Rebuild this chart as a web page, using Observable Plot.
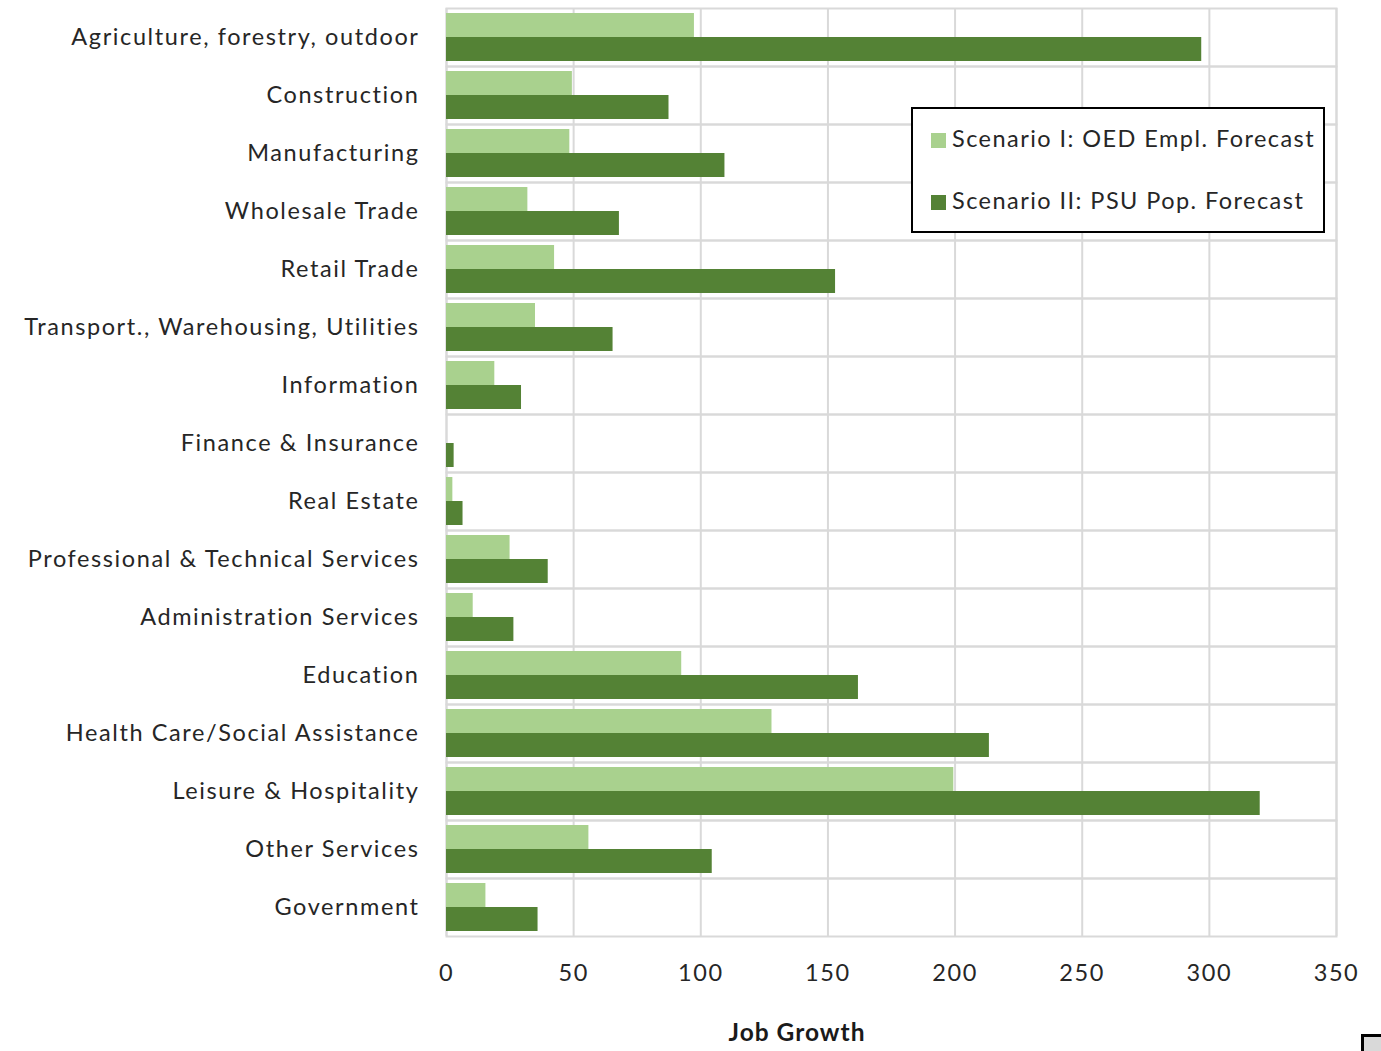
<!DOCTYPE html>
<html>
<head>
<meta charset="utf-8">
<script src="https://cdn.jsdelivr.net/npm/d3@7"></script>
<script src="https://cdn.jsdelivr.net/npm/@observablehq/plot@0.6"></script>
<style>
  html, body { margin: 0; padding: 0; background: #fff; }
  #wrap { position: relative; width: 1381px; height: 1051px; overflow: hidden; font-family: Lato, "Open Sans", sans-serif; color: #262626; }
  #chart { position: absolute; left: 0; top: 0; }
  #chart svg text { letter-spacing: 1.6px; }
  #legend { position: absolute; left: 911px; top: 107px; width: 410px; height: 122px; border: 2px solid #000; background: #fff; }
  .item { position: absolute; left: 18px; font-size: 23.5px; letter-spacing: 1.45px; white-space: nowrap; line-height: 24px; }
  .sw { display: inline-block; width: 15px; height: 15px; margin-right: 6px; vertical-align: -1px; }
  #xlabel { position: absolute; left: 647px; width: 300px; top: 1020px; line-height: 24px; text-align: center; font-weight: bold; font-size: 24.5px; letter-spacing: 1px; color: #1a1a1a; }
  #corner { position: absolute; left: 1361px; top: 1034px; width: 40px; height: 40px; background: #d9d9d9; border: 3px solid #000; box-sizing: border-box; }
</style>
</head>
<body>
<div id="wrap">
  <div id="chart"></div>
  <div id="legend">
    <div class="item" style="top:17px"><span class="sw" style="background:#a9d18e"></span>Scenario I: OED Empl. Forecast</div>
    <div class="item" style="top:79px"><span class="sw" style="background:#548235"></span>Scenario II: PSU Pop. Forecast</div>
  </div>
  <div id="xlabel">Job Growth</div>
  <div id="corner"></div>
</div>
<script>
const categories = [
  "Agriculture, forestry, outdoor",
  "Construction",
  "Manufacturing",
  "Wholesale Trade",
  "Retail Trade",
  "Transport., Warehousing, Utilities",
  "Information",
  "Finance & Insurance",
  "Real Estate",
  "Professional & Technical Services",
  "Administration Services",
  "Education",
  "Health Care/Social Assistance",
  "Leisure & Hospitality",
  "Other Services",
  "Government"
];
const scenarioI  = [97.5, 49.5, 48.5, 32, 42.5, 35, 19, 0, 2.5, 25, 10.5, 92.5, 128, 199.5, 56, 15.5];
const scenarioII = [297, 87.5, 109.5, 68, 153, 65.5, 29.5, 3, 6.5, 40, 26.5, 162, 213.5, 320, 104.5, 36];
const seriesNames = ["Scenario I: OED Empl. Forecast", "Scenario II: PSU Pop. Forecast"];
const seriesColors = ["#a9d18e", "#548235"];
const xTicks = [0, 50, 100, 150, 200, 250, 300, 350];

const rows = [];
categories.forEach((c, i) => {
  rows.push({category: c, series: seriesNames[0], value: scenarioI[i]});
  rows.push({category: c, series: seriesNames[1], value: scenarioII[i]});
});

const chart = Plot.plot({
  width: 1381,
  height: 1000,
  marginLeft: 446,
  marginRight: 45,
  marginTop: 7,
  marginBottom: 63,
  style: {fontFamily: "Lato, 'Open Sans', sans-serif", fontSize: "23.5px", color: "#262626", background: "transparent"},
  x: {domain: [0, 350], ticks: xTicks, tickSize: 0, tickPadding: 28, label: null, tickFormat: d => String(d)},
  y: {domain: seriesNames, axis: null, paddingInner: 0, paddingOuter: 0.2},
  fy: {domain: categories, padding: 0, axis: "left", tickSize: 0, tickPadding: 27, label: null},
  color: {domain: seriesNames, range: seriesColors},
  marks: [
    Plot.gridX({ticks: xTicks, stroke: "#d9d9d9", strokeOpacity: 1, strokeWidth: 2}),
    Plot.frame({stroke: "#d9d9d9", strokeWidth: 2}),
    Plot.barX(rows, {fy: "category", y: "series", x: "value", fill: "series"})
  ]
});
document.getElementById("chart").appendChild(chart);
</script>
</body>
</html>
